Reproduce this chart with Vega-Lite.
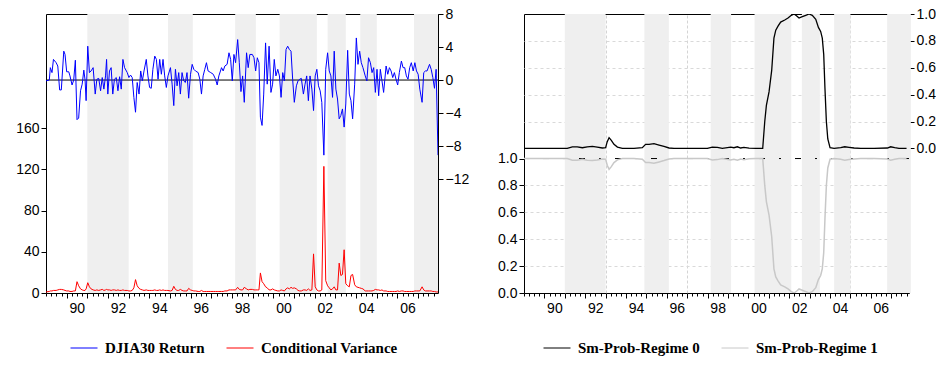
{
  "$schema": "https://vega.github.io/schema/vega-lite/v6.json",
  "padding": {"left": 0, "top": 6, "right": 0, "bottom": 0},
  "spacing": 23,
  "datasets": {
    "shade": [
      {"s": 1991.0, "e": 1993.0}, {"s": 1994.9, "e": 1996.1}, {"s": 1998.15, "e": 1999.15},
      {"s": 2000.3, "e": 2002.1}, {"s": 2002.62, "e": 2003.5}, {"s": 2004.2, "e": 2005.0},
      {"s": 2006.8, "e": 2007.96}
    ],
    "one": [{"k": 1}],
    "djia": [
      {"t":1989.00,"ret":-0.1,"cv":1},{"t":1989.16,"ret":0.0,"cv":1.5},{"t":1989.21,"ret":1.5,"cv":2},{"t":1989.29,"ret":0.9,"cv":2},
      {"t":1989.36,"ret":2.5,"cv":2.5},{"t":1989.49,"ret":2.1,"cv":2.5},{"t":1989.57,"ret":1.7,"cv":3},{"t":1989.66,"ret":-1.2,"cv":3.5},
      {"t":1989.74,"ret":-1.2,"cv":3.5},{"t":1989.86,"ret":3.5,"cv":3},{"t":1989.92,"ret":3.1,"cv":2.5},{"t":1990.00,"ret":1.0,"cv":2},
      {"t":1990.10,"ret":1.0,"cv":2},{"t":1990.16,"ret":0.5,"cv":1.5},{"t":1990.26,"ret":-0.6,"cv":1.5},{"t":1990.34,"ret":0,"cv":2},
      {"t":1990.42,"ret":2.4,"cv":2},{"t":1990.50,"ret":-4.8,"cv":11},{"t":1990.58,"ret":-4.6,"cv":7},{"t":1990.67,"ret":-1.3,"cv":4},
      {"t":1990.75,"ret":-0.5,"cv":3},{"t":1990.83,"ret":1.2,"cv":2.5},{"t":1990.89,"ret":0,"cv":2.5},{"t":1990.94,"ret":-2.5,"cv":4},
      {"t":1991.02,"ret":4.1,"cv":10},{"t":1991.10,"ret":0.9,"cv":6},{"t":1991.18,"ret":1.1,"cv":4},{"t":1991.28,"ret":1.5,"cv":3},
      {"t":1991.38,"ret":-1.7,"cv":2.5},{"t":1991.46,"ret":0.1,"cv":3},{"t":1991.55,"ret":0.2,"cv":2.5},{"t":1991.64,"ret":-1.3,"cv":3},
      {"t":1991.72,"ret":0.3,"cv":3.5},{"t":1991.80,"ret":-1.1,"cv":2.5},{"t":1991.88,"ret":0.5,"cv":3},{"t":1991.93,"ret":2.5,"cv":3.5},
      {"t":1991.99,"ret":-1.7,"cv":3},{"t":1992.07,"ret":1.1,"cv":3},{"t":1992.15,"ret":1.5,"cv":2.5},{"t":1992.23,"ret":-1.7,"cv":3},
      {"t":1992.31,"ret":0.1,"cv":3},{"t":1992.40,"ret":0.3,"cv":2.5},{"t":1992.48,"ret":-1.3,"cv":3},{"t":1992.56,"ret":0.4,"cv":2.5},
      {"t":1992.64,"ret":-1.1,"cv":2.5},{"t":1992.72,"ret":2.5,"cv":3},{"t":1992.80,"ret":1.5,"cv":2.5},{"t":1992.93,"ret":0.9,"cv":2.5},
      {"t":1993.01,"ret":0.3,"cv":2},{"t":1993.09,"ret":0.6,"cv":2},{"t":1993.17,"ret":0.3,"cv":2.5},{"t":1993.25,"ret":-2.1,"cv":5},
      {"t":1993.33,"ret":-3.9,"cv":13},{"t":1993.41,"ret":-0.3,"cv":7},{"t":1993.50,"ret":-1.7,"cv":4.5},{"t":1993.58,"ret":1.1,"cv":3.5},
      {"t":1993.66,"ret":-0.1,"cv":3},{"t":1993.74,"ret":1.1,"cv":2.5},{"t":1993.85,"ret":2.5,"cv":3},{"t":1993.93,"ret":0.5,"cv":2.5},
      {"t":1994.01,"ret":-0.9,"cv":2.5},{"t":1994.09,"ret":-1.0,"cv":2.5},{"t":1994.17,"ret":1.3,"cv":2.5},{"t":1994.26,"ret":2.9,"cv":3},
      {"t":1994.34,"ret":2.5,"cv":2.5},{"t":1994.42,"ret":0.1,"cv":2.5},{"t":1994.50,"ret":2.5,"cv":3},{"t":1994.58,"ret":0.7,"cv":2.5},
      {"t":1994.66,"ret":2.5,"cv":3},{"t":1994.74,"ret":0.5,"cv":2.5},{"t":1994.82,"ret":-0.9,"cv":2.5},{"t":1994.90,"ret":0.5,"cv":2.5},
      {"t":1995.02,"ret":1.5,"cv":2},{"t":1995.10,"ret":-0.5,"cv":2.5},{"t":1995.18,"ret":-3.1,"cv":6.5},{"t":1995.26,"ret":1.3,"cv":3.5},
      {"t":1995.34,"ret":-0.7,"cv":2.5},{"t":1995.42,"ret":0.9,"cv":2.5},{"t":1995.50,"ret":-1.7,"cv":3.5},{"t":1995.58,"ret":0.9,"cv":2.5},
      {"t":1995.66,"ret":-0.1,"cv":2},{"t":1995.74,"ret":-0.3,"cv":2},{"t":1995.82,"ret":0.9,"cv":2},{"t":1995.90,"ret":-2.2,"cv":4.5},
      {"t":1995.99,"ret":0.7,"cv":3},{"t":1996.07,"ret":1.9,"cv":2.5},{"t":1996.15,"ret":1.3,"cv":2},{"t":1996.23,"ret":1.1,"cv":2},
      {"t":1996.36,"ret":0.9,"cv":1.5},{"t":1996.44,"ret":0.1,"cv":1.5},{"t":1996.52,"ret":-1.7,"cv":2.5},{"t":1996.60,"ret":0.5,"cv":1.5},
      {"t":1996.68,"ret":1.3,"cv":1.5},{"t":1996.76,"ret":2.1,"cv":1.5},{"t":1996.84,"ret":1.1,"cv":1.5},{"t":1996.97,"ret":0.9,"cv":1.5},
      {"t":1997.09,"ret":0.7,"cv":1.5},{"t":1997.20,"ret":0.1,"cv":1.5},{"t":1997.28,"ret":-0.6,"cv":1.5},{"t":1997.36,"ret":0.5,"cv":1.5},
      {"t":1997.49,"ret":1.5,"cv":1.5},{"t":1997.57,"ret":1.1,"cv":1.5},{"t":1997.65,"ret":1.7,"cv":2},{"t":1997.76,"ret":1.9,"cv":2},
      {"t":1997.85,"ret":3.3,"cv":3},{"t":1997.93,"ret":2.5,"cv":3},{"t":1998.01,"ret":-0.1,"cv":3},{"t":1998.09,"ret":3.1,"cv":3},
      {"t":1998.17,"ret":2.1,"cv":3},{"t":1998.27,"ret":4.9,"cv":5.5},{"t":1998.35,"ret":2.1,"cv":3.5},{"t":1998.43,"ret":-1.4,"cv":3},
      {"t":1998.51,"ret":0.5,"cv":3},{"t":1998.59,"ret":-2.7,"cv":5.5},{"t":1998.70,"ret":3.3,"cv":4},{"t":1998.78,"ret":1.5,"cv":3},
      {"t":1998.86,"ret":3.1,"cv":3.5},{"t":1998.98,"ret":3.1,"cv":3.5},{"t":1999.06,"ret":2.7,"cv":3},{"t":1999.14,"ret":1.1,"cv":3},
      {"t":1999.22,"ret":2.7,"cv":3},{"t":1999.30,"ret":2.1,"cv":3},{"t":1999.37,"ret":-4.5,"cv":19.5},{"t":1999.45,"ret":-5.5,"cv":11},
      {"t":1999.53,"ret":-1.7,"cv":9},{"t":1999.62,"ret":4.5,"cv":6},{"t":1999.70,"ret":-0.5,"cv":5},{"t":1999.79,"ret":4.1,"cv":3},
      {"t":1999.88,"ret":-1.5,"cv":3},{"t":1999.96,"ret":-0.5,"cv":4},{"t":2000.04,"ret":2.5,"cv":3},{"t":2000.12,"ret":0.5,"cv":2.5},
      {"t":2000.21,"ret":1.3,"cv":2},{"t":2000.29,"ret":0.5,"cv":2},{"t":2000.37,"ret":-2.1,"cv":3},{"t":2000.45,"ret":0.9,"cv":2.5},
      {"t":2000.53,"ret":-0.1,"cv":2},{"t":2000.61,"ret":3.7,"cv":4},{"t":2000.69,"ret":4.1,"cv":5},{"t":2000.77,"ret":3.7,"cv":4},
      {"t":2000.85,"ret":3.5,"cv":5.5},{"t":2000.93,"ret":0.1,"cv":4.5},{"t":2001.01,"ret":-2.7,"cv":5},{"t":2001.11,"ret":-0.7,"cv":4},
      {"t":2001.19,"ret":-0.1,"cv":2.5},{"t":2001.27,"ret":0.1,"cv":2},{"t":2001.35,"ret":0.2,"cv":2},{"t":2001.45,"ret":-1.7,"cv":3},
      {"t":2001.53,"ret":-0.5,"cv":3},{"t":2001.61,"ret":0.5,"cv":2.5},{"t":2001.69,"ret":-2.5,"cv":4},{"t":2001.77,"ret":0.5,"cv":2.5},
      {"t":2001.86,"ret":-1.1,"cv":3},{"t":2001.94,"ret":-3.7,"cv":38},{"t":2002.02,"ret":0.5,"cv":6},{"t":2002.10,"ret":1.3,"cv":3},
      {"t":2002.18,"ret":-0.7,"cv":2},{"t":2002.26,"ret":-1.3,"cv":2},{"t":2002.34,"ret":-2.7,"cv":3},{"t":2002.44,"ret":-9.1,"cv":123},
      {"t":2002.53,"ret":1.3,"cv":12},{"t":2002.62,"ret":3.3,"cv":7},{"t":2002.70,"ret":1.1,"cv":5},{"t":2002.78,"ret":0.5,"cv":3},
      {"t":2002.86,"ret":-2.1,"cv":4},{"t":2002.94,"ret":3.5,"cv":6},{"t":2003.02,"ret":-1.1,"cv":3},{"t":2003.10,"ret":-2.3,"cv":3},
      {"t":2003.18,"ret":-4.7,"cv":29},{"t":2003.26,"ret":-4.3,"cv":17},{"t":2003.34,"ret":-3.5,"cv":18},{"t":2003.42,"ret":-5.7,"cv":42},
      {"t":2003.50,"ret":-2.9,"cv":9},{"t":2003.59,"ret":3.6,"cv":7},{"t":2003.67,"ret":-1.7,"cv":6},{"t":2003.75,"ret":-2.5,"cv":17},
      {"t":2003.83,"ret":-4.7,"cv":18},{"t":2003.93,"ret":-0.5,"cv":8},{"t":2004.01,"ret":5.1,"cv":6},{"t":2004.09,"ret":1.9,"cv":5.5},
      {"t":2004.17,"ret":3.5,"cv":5},{"t":2004.25,"ret":2.1,"cv":4.5},{"t":2004.33,"ret":1.5,"cv":4},{"t":2004.44,"ret":0.5,"cv":2},
      {"t":2004.52,"ret":-0.1,"cv":2},{"t":2004.60,"ret":2.7,"cv":2},{"t":2004.69,"ret":2.1,"cv":2},{"t":2004.77,"ret":0.9,"cv":2},
      {"t":2004.85,"ret":1.5,"cv":2.5},{"t":2004.93,"ret":-1.5,"cv":3.5},{"t":2005.01,"ret":1.3,"cv":3},{"t":2005.09,"ret":-1.9,"cv":3},
      {"t":2005.17,"ret":1.3,"cv":2.5},{"t":2005.25,"ret":-0.1,"cv":3},{"t":2005.33,"ret":-1.5,"cv":2},{"t":2005.45,"ret":1.7,"cv":2},
      {"t":2005.53,"ret":0.7,"cv":1.5},{"t":2005.61,"ret":1.5,"cv":1.5},{"t":2005.69,"ret":1.1,"cv":1.5},{"t":2005.77,"ret":0.3,"cv":1.5},
      {"t":2005.85,"ret":0.9,"cv":1.5},{"t":2005.93,"ret":0.1,"cv":1.5},{"t":2006.01,"ret":-0.6,"cv":2},{"t":2006.09,"ret":0.9,"cv":1.5},
      {"t":2006.19,"ret":2.3,"cv":2},{"t":2006.27,"ret":1.5,"cv":2},{"t":2006.35,"ret":1.5,"cv":1.5},{"t":2006.43,"ret":0.5,"cv":1.5},
      {"t":2006.51,"ret":0.1,"cv":1.5},{"t":2006.59,"ret":1.5,"cv":1.5},{"t":2006.67,"ret":2.1,"cv":1.5},{"t":2006.76,"ret":1.1,"cv":1.5},
      {"t":2006.84,"ret":2.1,"cv":2},{"t":2006.92,"ret":1.1,"cv":2},{"t":2007.00,"ret":0.7,"cv":2},{"t":2007.08,"ret":-1.1,"cv":2},
      {"t":2007.19,"ret":-2.7,"cv":6},{"t":2007.27,"ret":0.9,"cv":3},{"t":2007.35,"ret":1.1,"cv":2},{"t":2007.43,"ret":1.1,"cv":2},
      {"t":2007.55,"ret":1.9,"cv":2},{"t":2007.63,"ret":1.3,"cv":2},{"t":2007.71,"ret":0.3,"cv":1.5},{"t":2007.79,"ret":-1.0,"cv":1.5},
      {"t":2007.87,"ret":1.3,"cv":1},{"t":2007.96,"ret":-9.1,"cv":1}
    ],
    "regime": [
      {"t":1989.00,"p0":0,"p1":1},{"t":1989.82,"p0":0,"p1":1},{"t":1990.63,"p0":0,"p1":1},{"t":1991.12,"p0":0,"p1":1},
      {"t":1991.37,"p0":0.012,"p1":0.988},{"t":1991.61,"p0":0.012,"p1":0.988},{"t":1991.86,"p0":0.005,"p1":0.995},
      {"t":1992.10,"p0":0.012,"p1":0.988},{"t":1992.35,"p0":0.015,"p1":0.985},{"t":1992.59,"p0":0.01,"p1":0.99},
      {"t":1992.84,"p0":0.003,"p1":0.997},{"t":1993.00,"p0":0.005,"p1":0.995},{"t":1993.08,"p0":0.05,"p1":0.95},
      {"t":1993.17,"p0":0.08,"p1":0.92},{"t":1993.28,"p0":0.06,"p1":0.94},{"t":1993.41,"p0":0.03,"p1":0.97},
      {"t":1993.58,"p0":0.01,"p1":0.99},{"t":1993.82,"p0":0,"p1":1},{"t":1994.39,"p0":0,"p1":1},
      {"t":1994.80,"p0":0.005,"p1":0.995},{"t":1994.96,"p0":0.03,"p1":0.97},{"t":1995.13,"p0":0.03,"p1":0.97},
      {"t":1995.37,"p0":0.035,"p1":0.965},{"t":1995.62,"p0":0.025,"p1":0.975},{"t":1995.86,"p0":0.015,"p1":0.985},
      {"t":1996.11,"p0":0.003,"p1":0.997},{"t":1996.35,"p0":0,"p1":1},{"t":1997.17,"p0":0,"p1":1},{"t":1997.99,"p0":0,"p1":1},
      {"t":1998.23,"p0":0.01,"p1":0.99},{"t":1998.48,"p0":0.008,"p1":0.992},{"t":1998.72,"p0":0,"p1":1},
      {"t":1999.13,"p0":0.01,"p1":0.99},{"t":1999.29,"p0":0.005,"p1":0.995},{"t":1999.46,"p0":0.012,"p1":0.988},
      {"t":1999.62,"p0":0.003,"p1":0.997},{"t":1999.78,"p0":0.008,"p1":0.992},{"t":2000.03,"p0":0.002,"p1":0.998},
      {"t":2000.36,"p0":0,"p1":1},{"t":2000.70,"p0":0,"p1":1},{"t":2000.80,"p0":0.2,"p1":0.8},{"t":2000.88,"p0":0.32,"p1":0.68},
      {"t":2001.01,"p0":0.42,"p1":0.58},{"t":2001.14,"p0":0.58,"p1":0.42},{"t":2001.25,"p0":0.82,"p1":0.18},
      {"t":2001.34,"p0":0.88,"p1":0.12},{"t":2001.45,"p0":0.91,"p1":0.09},{"t":2001.58,"p0":0.94,"p1":0.06},
      {"t":2001.78,"p0":0.955,"p1":0.045},{"t":2001.94,"p0":0.97,"p1":0.03},{"t":2002.10,"p0":0.99,"p1":0.01},
      {"t":2002.24,"p0":1.0,"p1":0},{"t":2002.37,"p0":0.985,"p1":0.015},{"t":2002.48,"p0":0.97,"p1":0.03},
      {"t":2002.64,"p0":0.98,"p1":0.02},{"t":2002.81,"p0":0.99,"p1":0.01},{"t":2002.97,"p0":1.0,"p1":0},
      {"t":2003.13,"p0":0.99,"p1":0.01},{"t":2003.30,"p0":0.96,"p1":0.04},{"t":2003.43,"p0":0.9,"p1":0.1},
      {"t":2003.54,"p0":0.87,"p1":0.13},{"t":2003.62,"p0":0.82,"p1":0.18},{"t":2003.69,"p0":0.7,"p1":0.3},
      {"t":2003.75,"p0":0.45,"p1":0.55},{"t":2003.82,"p0":0.2,"p1":0.8},{"t":2003.89,"p0":0.07,"p1":0.93},
      {"t":2004.00,"p0":0.005,"p1":0.995},{"t":2004.20,"p0":0,"p1":1},{"t":2004.52,"p0":0.005,"p1":0.995},
      {"t":2004.72,"p0":0.012,"p1":0.988},{"t":2004.93,"p0":0.008,"p1":0.992},{"t":2005.18,"p0":0.003,"p1":0.997},
      {"t":2005.50,"p0":0,"p1":1},{"t":2006.16,"p0":0,"p1":1},{"t":2006.81,"p0":0.003,"p1":0.997},
      {"t":2006.97,"p0":0.012,"p1":0.988},{"t":2007.17,"p0":0.005,"p1":0.995},{"t":2007.38,"p0":0,"p1":1},
      {"t":2007.75,"p0":0,"p1":1}
    ]
  },
  "hconcat": [
    {
      "width": 392,
      "height": 279,
      "layer": [
        {
          "data": {"name": "shade"},
          "mark": {"type": "rect", "color": "#efefef"},
          "encoding": {
            "x": {
              "field": "s", "type": "quantitative",
              "scale": {"domain": [1989.0, 2007.96], "nice": false, "zero": false},
              "axis": {
                "title": null, "orient": "bottom",
                "values": [1990,1991,1992,1993,1994,1995,1996,1997,1998,1999,2000,2001,2002,2003,2004,2005,2006,2007],
                "labelExpr": "datum.value % 2 === 0 ? format(datum.value % 100, '02d') : ''",
                "labelOffset": 10, "labelOverlap": false, "labelPadding": 3, "tickSize": 5
              }
            },
            "x2": {"field": "e"}
          }
        },
        {
          "data": {"name": "one"},
          "mark": {"type": "rule", "color": "black", "strokeWidth": 1},
          "encoding": {
            "y": {"datum": 0, "type": "quantitative", "scale": {"domain": [-25.8, 8], "nice": false, "zero": false}, "axis": null}
          }
        },
        {
          "data": {"name": "djia"},
          "mark": {"type": "line", "strokeWidth": 1, "clip": true},
          "encoding": {
            "x": {
              "field": "t", "type": "quantitative",
              "scale": {"domain": [1989.0, 2007.96], "nice": false, "zero": false},
              "axis": {
                "title": null, "orient": "bottom", "labels": false, "tickSize": 3,
                "values": [1989,1989.25,1989.5,1989.75,1990.25,1990.5,1990.75,1991.25,1991.5,1991.75,1992.25,1992.5,1992.75,1993.25,1993.5,1993.75,1994.25,1994.5,1994.75,1995.25,1995.5,1995.75,1996.25,1996.5,1996.75,1997.25,1997.5,1997.75,1998.25,1998.5,1998.75,1999.25,1999.5,1999.75,2000.25,2000.5,2000.75,2001.25,2001.5,2001.75,2002.25,2002.5,2002.75,2003.25,2003.5,2003.75,2004.25,2004.5,2004.75,2005.25,2005.5,2005.75,2006.25,2006.5,2006.75,2007.25,2007.5,2007.75]
              }
            },
            "y": {
              "field": "ret", "type": "quantitative",
              "scale": {"domain": [-25.8, 8], "nice": false, "zero": false},
              "axis": {"orient": "right", "title": null, "values": [8, 4, 0, -4, -8, -12], "minExtent": 30, "maxExtent": 30}
            },
            "color": {
              "datum": "DJIA30 Return", "type": "nominal",
              "scale": {"domain": ["DJIA30 Return", "Conditional Variance"], "range": ["#0000ff", "#ff0000"]},
              "legend": {"legendX": 24, "legendY": 320}
            }
          }
        },
        {
          "data": {"name": "djia"},
          "mark": {"type": "line", "strokeWidth": 1, "clip": true},
          "encoding": {
            "x": {"field": "t", "type": "quantitative", "scale": {"domain": [1989.0, 2007.96], "nice": false, "zero": false}, "axis": null},
            "y": {
              "field": "cv", "type": "quantitative",
              "scale": {"domain": [0, 271], "nice": false, "zero": false},
              "axis": {"orient": "left", "title": null, "values": [0, 40, 80, 120, 160], "minExtent": 45, "maxExtent": 45}
            },
            "color": {"datum": "Conditional Variance", "type": "nominal"}
          }
        }
      ],
      "resolve": {"scale": {"y": "independent", "x": "independent"}, "axis": {"x": "independent"}}
    },
    {
      "width": 385,
      "height": 279,
      "layer": [
        {
          "data": {"name": "shade"},
          "mark": {"type": "rect", "color": "#efefef"},
          "encoding": {
            "x": {
              "field": "s", "type": "quantitative",
              "scale": {"domain": [1989.0, 2007.87], "nice": false, "zero": false},
              "axis": {
                "title": null, "orient": "bottom",
                "values": [1990,1991,1992,1993,1994,1995,1996,1997,1998,1999,2000,2001,2002,2003,2004,2005,2006,2007],
                "labelExpr": "datum.value % 2 === 0 ? format(datum.value % 100, '02d') : ''",
                "labelOffset": 10, "labelOverlap": false, "labelPadding": 3, "tickSize": 5,
                "grid": true, "gridColor": "#d4d4d4", "gridDash": [3, 2],
                "gridOpacity": {"condition": {"test": "datum.value % 2 === 1", "value": 1}, "value": 0}
              }
            },
            "x2": {"field": "e"}
          }
        },
        {
          "data": {"name": "one"},
          "mark": {"type": "rule", "color": "black", "strokeWidth": 1, "strokeDash": [6, 14, 2, 14]},
          "encoding": {
            "y": {"datum": 1, "type": "quantitative", "scale": {"domain": [0, 2.075], "nice": false, "zero": false}, "axis": null}
          }
        },
        {
          "data": {"name": "regime"},
          "mark": {"type": "line", "strokeWidth": 1.5, "clip": true},
          "encoding": {
            "x": {
              "field": "t", "type": "quantitative",
              "scale": {"domain": [1989.0, 2007.87], "nice": false, "zero": false},
              "axis": {
                "title": null, "orient": "bottom", "labels": false, "tickSize": 3,
                "values": [1989,1989.25,1989.5,1989.75,1990.25,1990.5,1990.75,1991.25,1991.5,1991.75,1992.25,1992.5,1992.75,1993.25,1993.5,1993.75,1994.25,1994.5,1994.75,1995.25,1995.5,1995.75,1996.25,1996.5,1996.75,1997.25,1997.5,1997.75,1998.25,1998.5,1998.75,1999.25,1999.5,1999.75,2000.25,2000.5,2000.75,2001.25,2001.5,2001.75,2002.25,2002.5,2002.75,2003.25,2003.5,2003.75,2004.25,2004.5,2004.75,2005.25,2005.5,2005.75,2006.25,2006.5,2006.75,2007.25,2007.5,2007.75]
              }
            },
            "y": {
              "field": "p1", "type": "quantitative",
              "scale": {"domain": [0, 2.075], "nice": false, "zero": false},
              "axis": {"orient": "left", "title": null, "values": [0, 0.2, 0.4, 0.6, 0.8, 1.0], "format": ".1f", "grid": true, "gridColor": "#d9d9d9", "gridDash": [3, 3],
                "gridOpacity": {"condition": {"test": "datum.value > 0.1 && datum.value < 0.9", "value": 1}, "value": 0},
                "minExtent": 30, "maxExtent": 30}
            },
            "color": {
              "datum": "Sm-Prob-Regime 1", "type": "nominal",
              "scale": {"domain": ["Sm-Prob-Regime 0", "Sm-Prob-Regime 1"], "range": ["#000000", "#c8c8c8"]},
              "legend": {"legendX": 19, "legendY": 320}
            }
          }
        },
        {
          "data": {"name": "regime"},
          "mark": {"type": "line", "strokeWidth": 1.3, "clip": true},
          "encoding": {
            "x": {"field": "t", "type": "quantitative", "scale": {"domain": [1989.0, 2007.87], "nice": false, "zero": false}, "axis": null},
            "y": {
              "field": "p0", "type": "quantitative",
              "scale": {"domain": [-1.076, 1], "nice": false, "zero": false},
              "axis": {"orient": "right", "title": null, "values": [0, 0.2, 0.4, 0.6, 0.8, 1.0], "format": ".1f", "grid": true, "gridColor": "#d9d9d9", "gridDash": [3, 3],
                "gridOpacity": {"condition": {"test": "datum.value > 0.1 && datum.value < 0.9", "value": 1}, "value": 0}}
            },
            "color": {"datum": "Sm-Prob-Regime 0", "type": "nominal"}
          }
        }
      ],
      "resolve": {"scale": {"y": "independent", "x": "independent"}, "axis": {"x": "independent"}}
    }
  ],
  "resolve": {"scale": {"color": "independent"}, "legend": {"color": "independent"}},
  "config": {
    "view": {"stroke": "black", "strokeWidth": 1},
    "axis": {
      "labelFont": "Liberation Sans", "labelFontSize": 14, "labelColor": "black",
      "tickColor": "black", "domain": false, "grid": false, "tickSize": 5, "labelPadding": 2
    },
    "legend": {
      "orient": "none", "direction": "horizontal", "title": null,
      "symbolType": "stroke", "symbolSize": 729, "symbolStrokeWidth": 1,
      "labelFont": "Liberation Serif", "labelFontWeight": "bold", "labelFontSize": 15,
      "labelColor": "black", "columnPadding": 19, "labelOffset": 7, "labelLimit": 300
    }
  }
}
